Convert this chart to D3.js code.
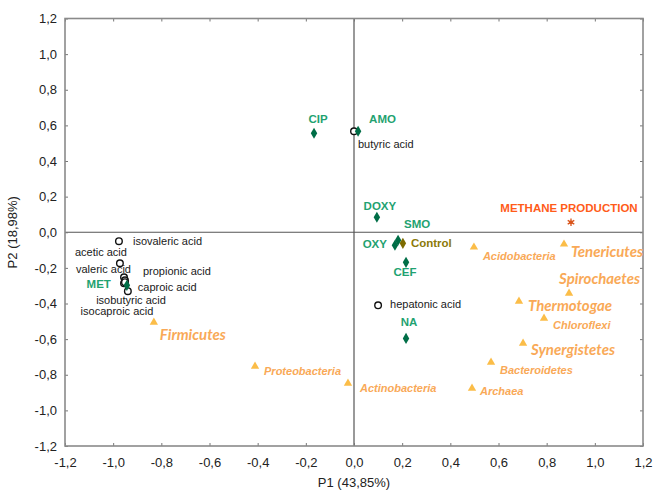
<!DOCTYPE html>
<html>
<head>
<meta charset="utf-8">
<script src="https://cdn.jsdelivr.net/npm/d3@7"></script>
<style>
  body { margin: 0; background: #fff; }
  text { font-family: Arial, "Liberation Sans", sans-serif; }
</style>
</head>
<body>
<div id="chart"></div>
<script>
// PCA biplot: acids, antibiotics, methane production and phyla

const xTicks = [-1.2, -1.0, -0.8, -0.6, -0.4, -0.2, 0.0, 0.2, 0.4, 0.6, 0.8, 1.0, 1.2];
const yTicks = [-1.2, -1.0, -0.8, -0.6, -0.4, -0.2, 0.0, 0.2, 0.4, 0.6, 0.8, 1.0, 1.2];

// volatile fatty acids (open circles)
const acidNames = ['isovaleric acid', 'acetic acid', 'valeric acid', 'propionic acid', 'caproic acid',
    'isobutyric acid', 'isocaproic acid', 'butyric acid', 'hepatonic acid'];
const acidP1 = [-0.976, -0.972, -0.955, -0.951, -0.939, -0.955, -0.951, 0.0, 0.10];
const acidP2 = [-0.05, -0.174, -0.253, -0.27, -0.331, -0.287, -0.28, 0.567, -0.41];

// antibiotic treatments (diamonds)
const drugNames = ['CIP', 'AMO', 'DOXY', 'SMO', 'OXY', 'CEF', 'NA', 'MET', 'Control'];
const drugP1 = [-0.166, 0.017, 0.095, 0.183, 0.170, 0.216, 0.216, -0.943, 0.203];
const drugP2 = [0.556, 0.567, 0.084, -0.045, -0.073, -0.169, -0.596, -0.298, -0.062];

// methane (asterisk)
const methaneNames = ['METHANE PRODUCTION'];
const methaneP1 = [0.901];
const methaneP2 = [0.056];

// phyla (triangles)
const phylumNames = ['Acidobacteria', 'Tenericutes', 'Spirochaetes', 'Thermotogae', 'Chloroflexi',
    'Synergistetes', 'Bacteroidetes', 'Archaea', 'Actinobacteria', 'Proteobacteria', 'Firmicutes'];
const phylumP1 = [0.498, 0.872, 0.893, 0.685, 0.789, 0.702, 0.569, 0.49, -0.025, -0.411, -0.831];
const phylumP2 = [-0.084, -0.067, -0.343, -0.388, -0.483, -0.624, -0.73, -0.876, -0.848, -0.753, -0.506];

// label placement (pixels relative to the marker) : [dx, dy, anchor]
const acidLabelPos = {
    'isovaleric acid': [14, 1, 'start'], 'acetic acid': [7, -10, 'end'], 'valeric acid': [7, -7, 'end'],
    'propionic acid': [18, -8, 'start'], 'caproic acid': [10, -3, 'start'], 'isobutyric acid': [7, 18, 'middle'],
    'isocaproic acid': [-8, 30, 'middle'], 'butyric acid': [4, 14, 'start'], 'hepatonic acid': [12, 0, 'start']
};
const drugLabelPos = {
    'CIP': [4, -13, 'middle'], 'AMO': [11, -11, 'start'], 'DOXY': [3, -10, 'middle'], 'SMO': [19, -15, 'middle'],
    'OXY': [-8, 0, 'end'], 'CEF': [-1, 11, 'middle'], 'NA': [3, -15, 'middle'], 'MET': [-16, 0, 'end'],
    'Control': [8, 1, 'start']
};
const phylumLabelPos = {
    'Acidobacteria': [9, 10], 'Tenericutes': [7, 9], 'Spirochaetes': [-10, -13], 'Thermotogae': [9, 6],
    'Chloroflexi': [9, 8], 'Synergistetes': [8, 8], 'Bacteroidetes': [9, 9], 'Archaea': [8, 4],
    'Actinobacteria': [12, 6], 'Proteobacteria': [9, 6], 'Firmicutes': [6, 14]
};
const bigPhyla = ['Tenericutes', 'Spirochaetes', 'Thermotogae', 'Synergistetes', 'Firmicutes'];

const width = 655, height = 492;
const margin = { left: 65, right: 12, top: 18.5, bottom: 46 };

const svg = d3.select('#chart').append('svg')
    .attr('width', width)
    .attr('height', height);

const x = d3.scaleLinear().domain([-1.2, 1.2]).range([margin.left, width - margin.right]);
const y = d3.scaleLinear().domain([-1.2, 1.2]).range([height - margin.bottom, margin.top]);

const fmt = d => d3.format('.1f')(d).replace('.', ',').replace('−', '-');

// zero lines
svg.append('line')
    .attr('x1', x(0)).attr('x2', x(0))
    .attr('y1', y(1.2)).attr('y2', y(-1.2))
    .attr('stroke', '#555').attr('stroke-width', 1.2);
svg.append('line')
    .attr('x1', x(-1.2)).attr('x2', x(1.2))
    .attr('y1', y(0)).attr('y2', y(0))
    .attr('stroke', '#555').attr('stroke-width', 1.2);

// axes with inward ticks
const axisStyle = g => {
    g.select('.domain').remove();
    g.selectAll('.tick line').attr('stroke', '#777');
    g.selectAll('.tick text').attr('fill', '#222').style('font-size', '13px')
        .style('font-family', 'Arial, "Liberation Sans", sans-serif');
};
svg.append('g')
    .attr('transform', `translate(0,${y(-1.2)})`)
    .call(d3.axisBottom(x).tickValues(xTicks).tickFormat(fmt).tickSizeInner(-3).tickPadding(12))
    .call(axisStyle);
svg.append('g')
    .attr('transform', `translate(${x(-1.2)},0)`)
    .call(d3.axisLeft(y).tickValues(yTicks).tickFormat(fmt).tickSizeInner(-3).tickPadding(8))
    .call(axisStyle);
svg.append('g')
    .attr('transform', `translate(0,${y(1.2)})`)
    .call(d3.axisTop(x).tickValues(xTicks).tickFormat('').tickSizeInner(-3))
    .call(axisStyle);
svg.append('g')
    .attr('transform', `translate(${x(1.2)},0)`)
    .call(d3.axisRight(y).tickValues(yTicks).tickFormat('').tickSizeInner(-3))
    .call(axisStyle);

// frame
svg.append('rect')
    .attr('x', x(-1.2)).attr('y', y(1.2))
    .attr('width', x(1.2) - x(-1.2)).attr('height', y(-1.2) - y(1.2))
    .attr('fill', 'none').attr('stroke', '#8a8a8a').attr('stroke-width', 1.6);

// axis titles
svg.append('text')
    .attr('x', x(0)).attr('y', 487)
    .attr('text-anchor', 'middle')
    .style('font-size', '13px').attr('fill', '#222')
    .text('P1 (43,85%)');
svg.append('text')
    .attr('transform', `translate(17,${y(0)}) rotate(-90)`)
    .attr('text-anchor', 'middle')
    .style('font-size', '13px').attr('fill', '#222')
    .text('P2 (18,98%)');

// phyla
const triangle = d3.symbol().type(d3.symbolTriangle).size(30);
phylumNames.forEach((name, i) => {
    const cx = x(phylumP1[i]), cy = y(phylumP2[i]);
    svg.append('path')
        .attr('d', triangle)
        .attr('transform', `translate(${cx},${cy})`)
        .attr('fill', '#fbbd48');
    const big = bigPhyla.includes(name);
    const pos = phylumLabelPos[name];
    svg.append('text')
        .attr('x', cx + pos[0]).attr('y', cy + pos[1])
        .attr('dominant-baseline', 'middle')
        .style('font-family', big ? 'Lato, "Open Sans", sans-serif' : 'Arial, "Liberation Sans", sans-serif')
        .style('font-size', big ? '15px' : '11px')
        .style('font-style', 'italic')
        .style('font-weight', 'bold')
        .attr('fill', '#f9a957')
        .text(name);
});

// acids
acidNames.forEach((name, i) => {
    const cx = x(acidP1[i]), cy = y(acidP2[i]);
    svg.append('circle')
        .attr('cx', cx).attr('cy', cy).attr('r', 3.3)
        .attr('fill', 'white').attr('stroke', '#111').attr('stroke-width', 1.4);
    const pos = acidLabelPos[name];
    svg.append('text')
        .attr('x', cx + pos[0]).attr('y', cy + pos[1])
        .attr('text-anchor', pos[2])
        .attr('dominant-baseline', 'middle')
        .style('font-size', '11px')
        .attr('fill', '#1a1a1a')
        .text(name);
});

// treatments
const diamond = d3.symbol().type(d3.symbolDiamond).size(36);
drugNames.forEach((name, i) => {
    const cx = x(drugP1[i]), cy = y(drugP2[i]);
    const isControl = name === 'Control';
    svg.append('path')
        .attr('d', diamond)
        .attr('transform', `translate(${cx},${cy})`)
        .attr('fill', isControl ? '#7d6b00' : '#006e47');
    const pos = drugLabelPos[name];
    svg.append('text')
        .attr('x', cx + pos[0]).attr('y', cy + pos[1])
        .attr('text-anchor', pos[2])
        .attr('dominant-baseline', 'middle')
        .style('font-size', '11.5px')
        .style('font-weight', 'bold')
        .attr('fill', isControl ? '#8c7a0a' : '#1fa271')
        .text(name);
});

// methane
const star = d3.symbol().type(d3.symbolAsterisk).size(40);
methaneNames.forEach((name, i) => {
    const cx = x(methaneP1[i]), cy = y(methaneP2[i]);
    svg.append('path')
        .attr('d', star)
        .attr('transform', `translate(${cx},${cy})`)
        .attr('fill', 'none').attr('stroke', '#d9541a').attr('stroke-width', 1.3);
    svg.append('circle')
        .attr('cx', cx).attr('cy', cy).attr('r', 1.8)
        .attr('fill', '#d9541a');
    svg.append('text')
        .attr('x', cx - 2).attr('y', cy - 13)
        .attr('text-anchor', 'middle')
        .attr('dominant-baseline', 'middle')
        .style('font-size', '11.5px')
        .style('font-weight', 'bold')
        .attr('fill', '#ff5c1a')
        .text(name);
});
</script>
</body>
</html>
